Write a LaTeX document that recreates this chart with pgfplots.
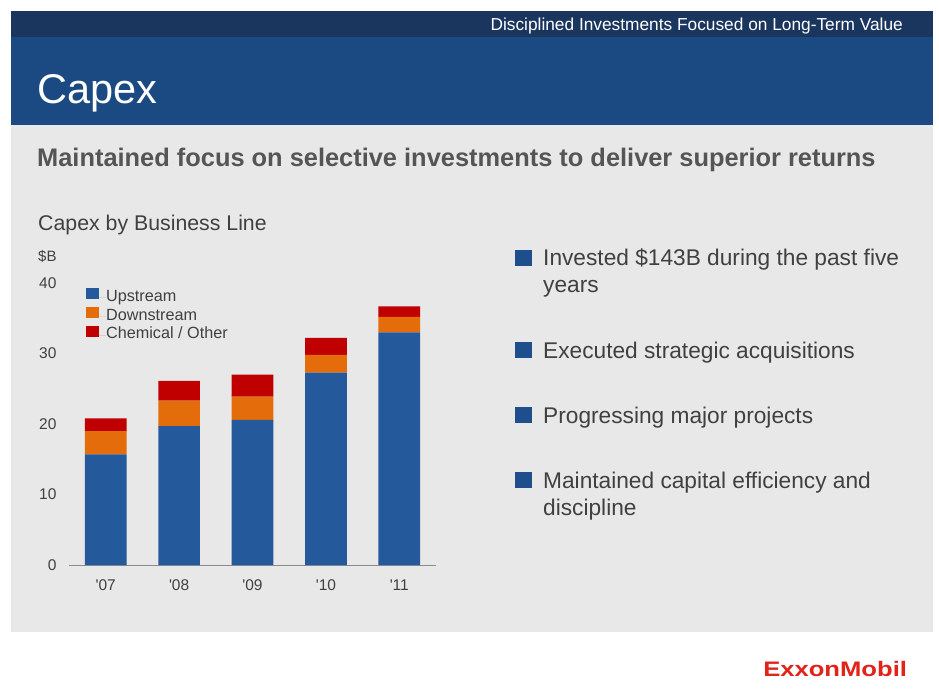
\documentclass[border=0pt]{standalone}
\usepackage{fontspec}
\setmainfont{Liberation Sans}
\usepackage{pgfplots}
\pgfplotsset{compat=1.18}
\definecolor{navy}{HTML}{1A365E}
\definecolor{band}{HTML}{1B4A82}
\definecolor{panel}{HTML}{E8E8E8}
\definecolor{up}{HTML}{245A9C}
\definecolor{down}{HTML}{E46C0A}
\definecolor{chem}{HTML}{C00000}
\definecolor{txt}{HTML}{404040}
\definecolor{sub}{HTML}{555555}
\definecolor{bul}{HTML}{1F4E8C}
\definecolor{xom}{HTML}{E2231A}
\definecolor{axgray}{HTML}{8C8C8C}
\newcommand{\fs}[1]{\fontsize{#1}{#1}\selectfont}
\begin{document}
\begin{tikzpicture}
\begin{scope}[x=1pt,y=-1pt]
\fill[white] (0,0) rectangle (939,692);
\path[use as bounding box] (0,0) rectangle (939,692);
\fill[panel] (11,125) rectangle (933,632);
\fill[band] (11,37) rectangle (933,125);
\fill[navy] (11,11) rectangle (933,37);
\node[anchor=base east, white, font=\fs{17.3}, inner sep=0] at (903,30.7) {Disciplined Investments Focused on Long-Term Value};
\node[anchor=base west, white, font=\fs{41.5}, inner sep=0] at (37,104) {Capex};
\node[anchor=base west, sub, font=\fs{25.4}\bfseries, inner sep=0] at (37,167) {Maintained focus on selective investments to deliver superior returns};
\node[anchor=base west, txt, font=\fs{21.3}, inner sep=0] at (38,231) {Capex by Business Line};
\node[anchor=base west, txt, font=\fs{15}, inner sep=0] at (38,261.5) {\$B};
% bullets
\foreach \b in {266,358,423,488} {\fill[bul] (515,\b-16) rectangle (532,\b);}
\begin{scope}[every node/.style={anchor=base west, txt, font=\fs{22.7}, inner sep=0}]
\node at (543,266) {Invested \$143B during the past five};
\node at (543,293) {years};
\node at (543,358) {Executed strategic acquisitions};
\node at (543,423) {Progressing major projects};
\node at (543,488) {Maintained capital efficiency and};
\node at (543,515) {discipline};
\end{scope}
\node[anchor=base west, xom, font=\fs{21}\bfseries, inner sep=0, xscale=1.22] at (763,676) {ExxonMobil};
\end{scope}
\begin{axis}[
  at={(69pt,-565pt)}, anchor=south west,
  scale only axis, width=367pt, height=282pt,
  xmin=-0.5, xmax=4.5, ymin=0, ymax=40,
  ybar stacked, bar width=41.7pt,
  xtick={0,1,2,3,4},
  xticklabels={{\textquotesingle}07,{\textquotesingle}08,{\textquotesingle}09,{\textquotesingle}10,{\textquotesingle}11},
  ytick={0,10,20,30,40},
  axis x line*=bottom, axis y line*=left,
  x axis line style={draw=axgray, line width=1pt},
  y axis line style={draw=none},
  major tick style={draw=none},
  /pgf/number format/assume math mode=true,
  tick label style={font=\fs{15.5}, text=txt},
  yticklabel style={xshift=-9pt},
  xticklabel style={yshift=-11pt},
  legend image code/.code={\fill[#1,draw=none] (0pt,-1.5pt) rectangle (13pt,9.5pt); \path (0pt,0pt) -- (20pt,0pt);},
  legend style={at={(0.0463,0.9823)}, anchor=north west, draw=none, fill=none, inner sep=0pt,
    font=\fs{16.2}, text=txt, row sep=1.5pt,
    nodes={inner sep=0pt, text height=11.5pt, text depth=4pt}},
  legend cell align=left,
]
\addplot[fill=up, draw=none] coordinates {(0,15.7) (1,19.7) (2,20.6) (3,27.3) (4,33.0)};
\addplot[fill=down, draw=none] coordinates {(0,3.3) (1,3.6) (2,3.3) (3,2.5) (4,2.2)};
\addplot[fill=chem, draw=none] coordinates {(0,1.8) (1,2.8) (2,3.1) (3,2.4) (4,1.5)};
\legend{Upstream, Downstream, Chemical / Other}
\end{axis}
\end{tikzpicture}
\end{document}
